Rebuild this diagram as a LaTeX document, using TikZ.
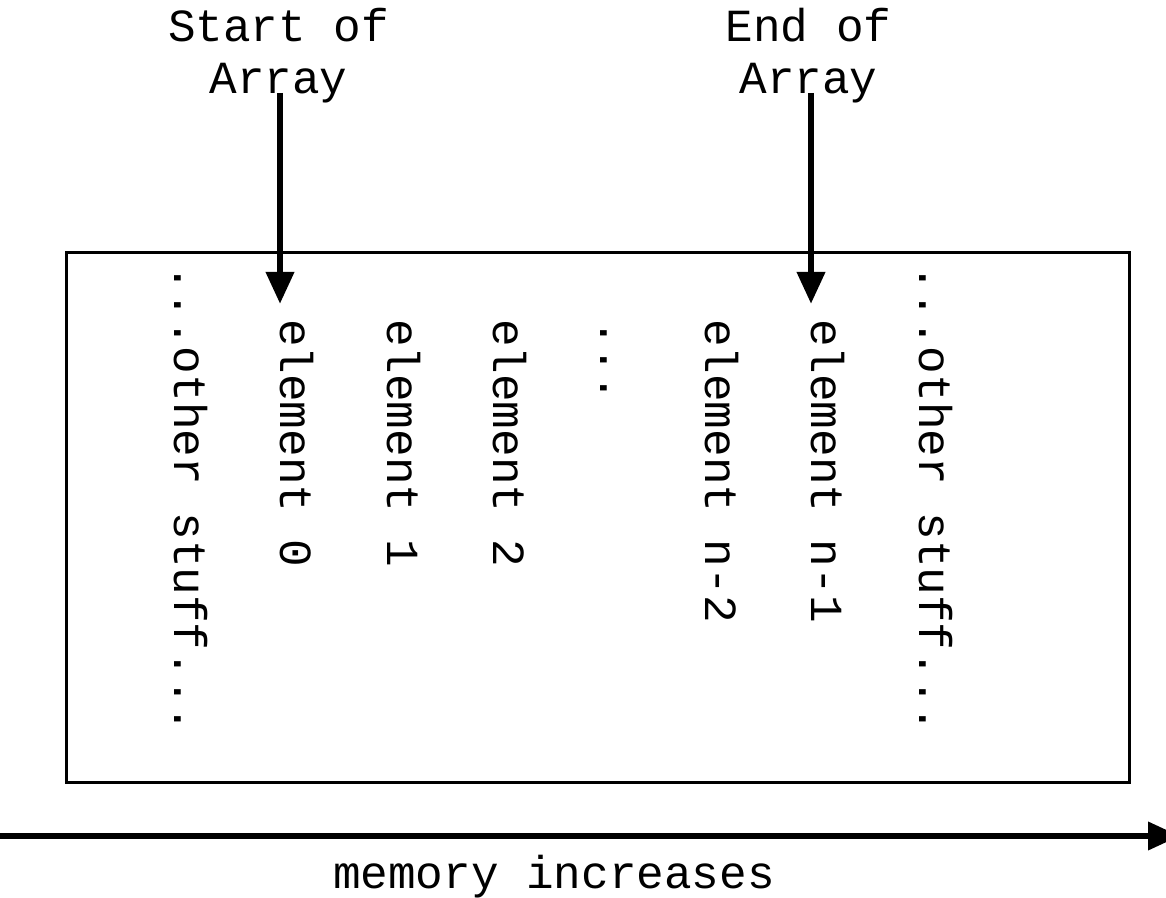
\documentclass[tikz,border=0pt]{standalone}
\usepackage{fontspec}
\setmonofont{Liberation Mono}
\usetikzlibrary{arrows.meta}

\tikzset{
  mono/.style={font=\ttfamily\fontsize{46}{52}\selectfont, inner sep=0pt},
  label/.style={mono, align=center, anchor=base},
  cell/.style={mono, rotate=-90, anchor=base west},
  pointer/.style={line width=6.7pt, -{Triangle[length=32pt, width=27pt]}},
  membox/.style={draw, line width=3pt, inner sep=0pt,
    minimum width=1062.5pt, minimum height=530pt}
}

\begin{document}
\begin{tikzpicture}[x=1pt, y=1pt]
  \useasboundingbox (0,0) rectangle (1166,897);

  % memory block
  \node[membox] (mem) at (597.75,379.5) {};

  % contents of memory, one column per location
  \node[cell] (otherL) at (174,633) {...other stuff...};
  \node[cell] (e0)     at (280,578) {element 0};
  \node[cell] (e1)     at (387,578) {element 1};
  \node[cell] (e2)     at (493,578) {element 2};
  \node[cell] (dots)   at (600,578) {...};
  \node[cell] (en2)    at (705,578) {element n-2};
  \node[cell] (en1)    at (811,578) {element n-1};
  \node[cell] (otherR) at (919,633) {...other stuff...};

  % pointer labels
  \node[label] (startlbl) at (278.5,803) {Start of\\Array};
  \node[label] (endlbl)   at (808.5,803) {End of\\Array};

  \coordinate (s0) at (280,804);
  \coordinate (s1) at (811,804);
  \draw[pointer, shorten >=15pt] (s0) -- (e0.base west);
  \draw[pointer, shorten >=15pt] (s1) -- (en1.base west);

  % direction of memory addresses
  \coordinate (m0) at (-5,61);
  \coordinate (m1) at (1180,61);
  \draw[pointer] (m0) -- (m1);
  \node[mono, anchor=base] (memlbl) at (554,9) {memory increases};
\end{tikzpicture}
\end{document}
